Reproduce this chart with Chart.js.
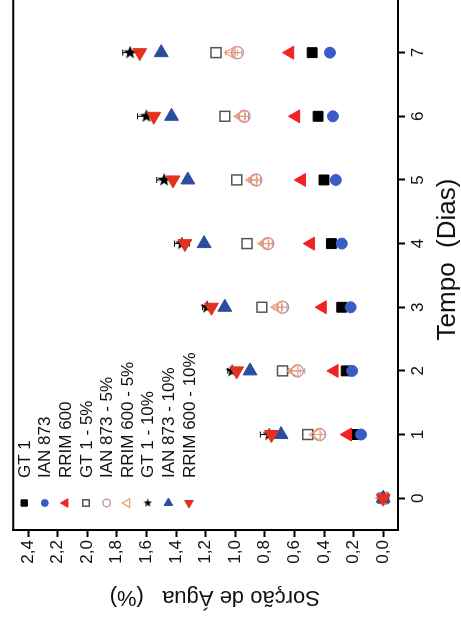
<!DOCTYPE html>
<html>
<head>
<meta charset="utf-8">
<script src="https://cdn.jsdelivr.net/npm/chart.js@4"></script>
<style>
  html, body { margin: 0; padding: 0; background: #fff; overflow: hidden; width: 461px; height: 623px; }
  #rot { position: absolute; left: 0; top: 0; width: 640px; height: 461px;
         transform-origin: 0 0; transform: translateY(623px) rotate(-90deg); }
</style>
</head>
<body>
<div id="rot"><canvas id="chart" width="640" height="461"></canvas></div>
<script>
// dias de ensaio
const days = [0, 1, 2, 3, 4, 5, 6, 7];
const valueTicks = [0, 0.2, 0.4, 0.6, 0.8, 1.0, 1.2, 1.4, 1.6, 1.8, 2.0, 2.2, 2.4];

// sorção de água (%)
const gt1       = [0, 0.18, 0.25, 0.28, 0.35, 0.40, 0.44, 0.48];
const ian873    = [0, 0.15, 0.21, 0.22, 0.28, 0.32, 0.34, 0.36];
const rrim600   = [0, 0.24, 0.33, 0.41, 0.49, 0.55, 0.59, 0.63];
const gt1_5     = [0, 0.51, 0.68, 0.82, 0.92, 0.99, 1.07, 1.13];
const ian873_5  = [0, 0.43, 0.58, 0.68, 0.78, 0.86, 0.94, 0.985];
const rrim600_5 = [0, 0.45, 0.60, 0.71, 0.80, 0.88, 0.96, 1.025];
const gt1_10    = [0, 0.77, 1.02, 1.19, 1.36, 1.48, 1.60, 1.71];
const ian873_10 = [0, 0.69, 0.90, 1.07, 1.21, 1.32, 1.43, 1.50];
const rrim600_10 = [0, 0.755, 0.99, 1.16, 1.34, 1.42, 1.55, 1.645];

// desvios
const gt1_5Err     = [0, 0.02, 0.03, 0.03, 0.03, 0.02, 0.02, 0.02];
const ian873_5Err  = [0, 0.04, 0.05, 0.03, 0.03, 0.03, 0.03, 0.03];
const rrim600_5Err = [0, 0.03, 0.04, 0.03, 0.03, 0.03, 0.03, 0.04];
const gt1_10Err    = [0, 0.06, 0.03, 0.03, 0.05, 0.05, 0.06, 0.05];

const FONT = '"Liberation Sans", Arial, sans-serif';

function makeStar(size) {
  const c = document.createElement('canvas');
  c.width = size; c.height = size;
  const g = c.getContext('2d');
  const r = size / 2, ri = r * 0.42;
  g.fillStyle = '#000';
  g.beginPath();
  for (let i = 0; i < 10; i++) {
    const ang = i * Math.PI / 5;     // ponta virada para a direita
    const rr = i % 2 ? ri : r;
    g.lineTo(r + rr * Math.cos(ang), r + rr * Math.sin(ang));
  }
  g.closePath();
  g.fill();
  return c;
}
const star = makeStar(14);
const starSmall = makeStar(9);

function pts(arr) { return days.map((d, i) => ({ x: d, y: arr[i] })); }

const datasets = [
  { label: 'GT 1', data: pts(gt1), pointStyle: 'rect', pointRadius: 7,
    backgroundColor: '#000', borderColor: '#000', borderWidth: 1, legendR: 4.5 },
  { label: 'IAN 873', data: pts(ian873), pointStyle: 'circle', pointRadius: 5.5,
    backgroundColor: '#3a5cc6', borderColor: '#3a5cc6', borderWidth: 1, legendR: 3.5 },
  { label: 'RRIM 600', data: pts(rrim600), pointStyle: 'triangle', pointRadius: 7.5, rotation: 0,
    backgroundColor: '#f22222', borderColor: '#f22222', borderWidth: 1, legendR: 5 },
  { label: 'GT 1 - 5%', data: pts(gt1_5), errs: gt1_5Err, pointStyle: 'rect', pointRadius: 7,
    backgroundColor: '#fff', borderColor: '#555', borderWidth: 1.5, legendR: 4.5 },
  { label: 'IAN 873 - 5%', data: pts(ian873_5), errs: ian873_5Err, pointStyle: 'circle', pointRadius: 6,
    backgroundColor: 'rgba(255,255,255,0)', borderColor: '#c08aa8', borderWidth: 1.3, legendR: 3.8 },
  { label: 'RRIM 600 - 5%', data: pts(rrim600_5), errs: rrim600_5Err, pointStyle: 'triangle', pointRadius: 7, rotation: 0,
    backgroundColor: 'rgba(255,255,255,0)', borderColor: '#eea070', borderWidth: 1.3, legendR: 5 },
  { label: 'GT 1 - 10%', data: pts(gt1_10), errs: gt1_10Err, pointStyle: star, legendStyle: starSmall,
    backgroundColor: '#000', borderColor: '#000', borderWidth: 1, pointRadius: 7, legendR: 4.5 },
  { label: 'IAN 873 - 10%', data: pts(ian873_10), pointStyle: 'triangle', pointRadius: 8, rotation: 90,
    backgroundColor: '#2b4d9e', borderColor: '#2b4d9e', borderWidth: 1, legendR: 5 },
  { label: 'RRIM 600 - 10%', data: pts(rrim600_10), pointStyle: 'triangle', pointRadius: 8, rotation: 270,
    backgroundColor: '#e2321e', borderColor: '#e2321e', borderWidth: 1, legendR: 5 }
];
// as últimas séries ficam por cima
datasets.forEach((ds, i) => { ds.order = datasets.length - i; });

const errorBars = {
  id: 'errorBars',
  beforeDatasetsDraw(chart) {
    const ctx = chart.ctx, ys = chart.scales.y;
    ctx.save();
    chart.data.datasets.forEach((ds, i) => {
      if (!ds.errs) return;
      const meta = chart.getDatasetMeta(i);
      ctx.strokeStyle = ds.borderColor;
      ctx.lineWidth = 1;
      meta.data.forEach((p, j) => {
        const e = ds.errs[j];
        if (!e) return;
        const v = ds.data[j].y;
        const y1 = ys.getPixelForValue(v - e), y2 = ys.getPixelForValue(v + e);
        ctx.beginPath();
        ctx.moveTo(p.x, y1); ctx.lineTo(p.x, y2);
        ctx.moveTo(p.x - 3, y1); ctx.lineTo(p.x + 3, y1);
        ctx.moveTo(p.x - 3, y2); ctx.lineTo(p.x + 3, y2);
        ctx.stroke();
      });
    });
    ctx.restore();
  }
};

const innerLegend = {
  id: 'innerLegend',
  afterDatasetsDraw(chart) {
    const ctx = chart.ctx, a = chart.chartArea;
    ctx.save();
    // linha superior da moldura
    ctx.strokeStyle = '#000';
    ctx.lineWidth = 2;
    ctx.beginPath();
    ctx.moveTo(a.left, a.top); ctx.lineTo(a.right + 10, a.top);
    ctx.stroke();

    ctx.font = '17px ' + FONT;
    ctx.textBaseline = 'middle';
    chart.data.datasets.forEach((ds, i) => {
      const y = a.top + 11 + i * 20.6;
      const x = a.left + 27;
      ctx.fillStyle = ds.backgroundColor;
      ctx.strokeStyle = ds.borderColor;
      ctx.lineWidth = ds.borderWidth;
      Chart.helpers.drawPoint(ctx, {
        pointStyle: ds.legendStyle || ds.pointStyle,
        rotation: ds.rotation || 0,
        radius: ds.legendR,
        borderWidth: ds.borderWidth
      }, x, y);
      ctx.fillStyle = '#111';
      ctx.fillText(ds.label, a.left + 52, y + 1);
    });
    ctx.restore();
  }
};

new Chart(document.getElementById('chart').getContext('2d'), {
  type: 'scatter',
  data: { datasets: datasets },
  options: {
    responsive: false,
    animation: false,
    events: [],
    layout: { padding: { top: 13, right: 6, left: 0, bottom: 0 }, autoPadding: false },
    plugins: { legend: { display: false }, tooltip: { enabled: false } },
    scales: {
      x: {
        type: 'linear', min: -0.5, max: 8,
        afterBuildTicks: s => { s.ticks = days.map(v => ({ value: v })); },
        afterFit: s => { s.height = 63; },
        grid: { drawOnChartArea: false, tickLength: 7, tickWidth: 2, tickColor: '#000' },
        border: { color: '#000', width: 2 },
        ticks: { color: '#111', padding: 3, maxRotation: 0, font: { family: FONT, size: 17 },
                 callback: v => String(v) },
        title: { display: true, text: 'Tempo  (Dias)', color: '#111',
                 font: { family: FONT, size: 26, lineHeight: 1 }, padding: { top: 1, bottom: 0 } }
      },
      y: {
        type: 'linear', min: -0.1, max: 2.5,
        afterBuildTicks: s => { s.ticks = valueTicks.map(v => ({ value: v })); },
        afterFit: s => { s.width = 93; },
        grid: { drawOnChartArea: false, tickLength: 7, tickWidth: 2, tickColor: '#000' },
        border: { color: '#000', width: 2 },
        ticks: { color: '#111', padding: 3, font: { family: FONT, size: 17 },
                 callback: v => v.toFixed(1).replace('.', ',') },
        title: { display: true, text: 'Sorção de Água   (%)   ', color: '#111',
                 font: { family: FONT, size: 22, lineHeight: 1 }, padding: { top: 15, bottom: 0 } }
      }
    }
  },
  plugins: [errorBars, innerLegend]
});
</script>
</body>
</html>
